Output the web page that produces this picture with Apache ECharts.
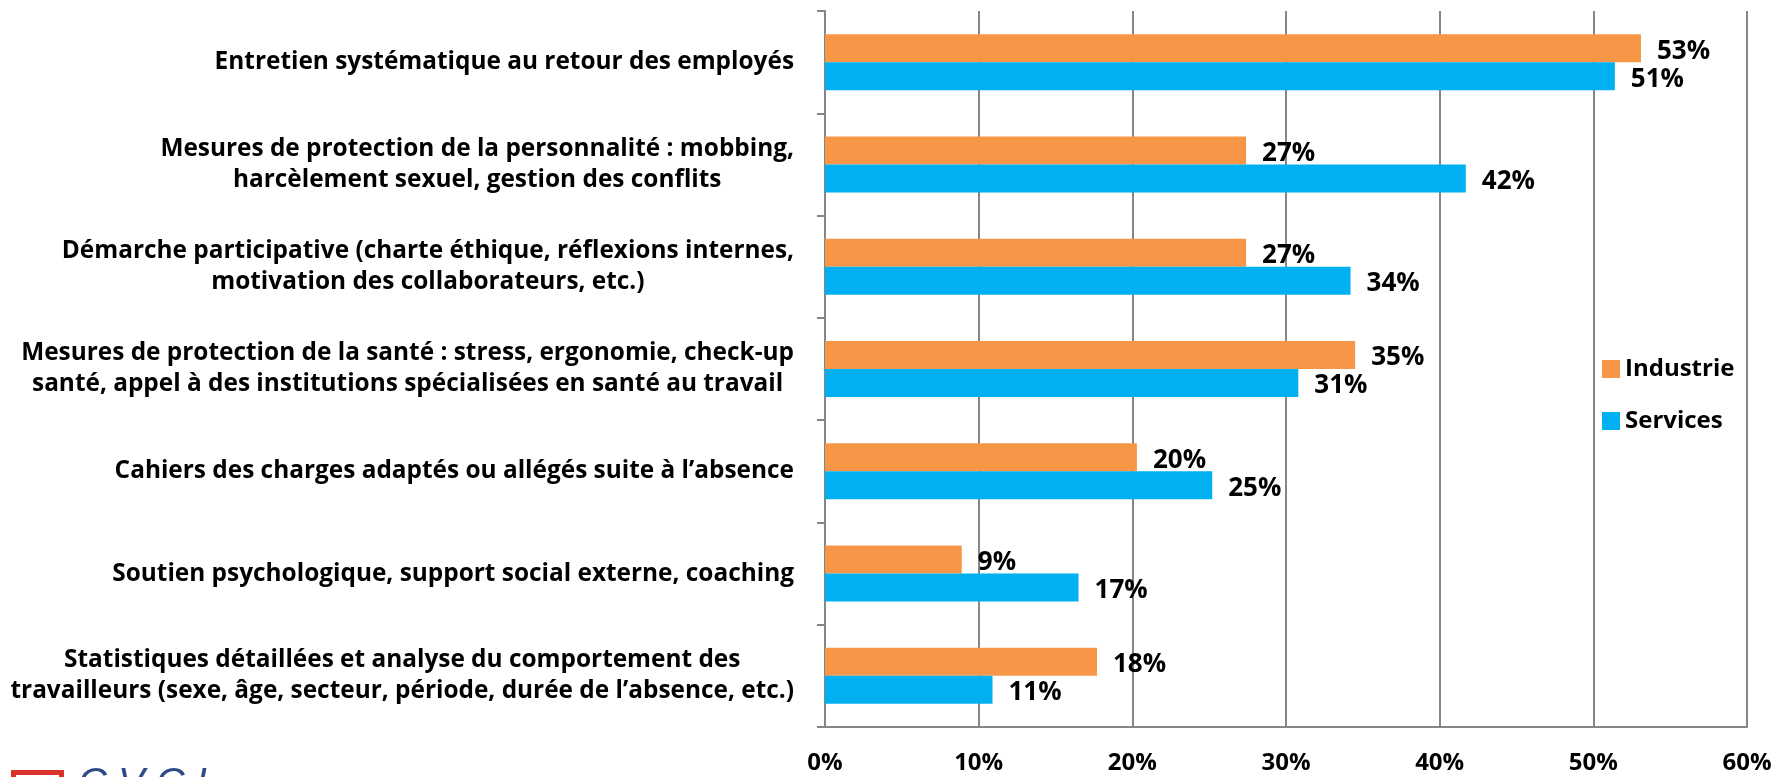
<!DOCTYPE html>
<html>
<head>
<meta charset="utf-8">
<script src="https://cdn.jsdelivr.net/npm/echarts@6/dist/echarts.min.js"></script>
<style>
html,body{margin:0;padding:0;background:#fff;}
#chart{width:1778px;height:777px;}
</style>
</head>
<body>
<div id="chart"></div>
<script>
const categories = [
  "Entretien systématique au retour des employés",
  "Mesures de protection de la personnalité : mobbing,\nharcèlement sexuel, gestion des conflits",
  "Démarche participative (charte éthique, réflexions internes,\nmotivation des collaborateurs, etc.)",
  "Mesures de protection de la santé : stress, ergonomie, check-up\nsanté, appel à des institutions spécialisées en santé au travail",
  "Cahiers des charges adaptés ou allégés suite à l’absence",
  "Soutien psychologique, support social externe, coaching",
  "Statistiques détaillées et analyse du comportement des\ntravailleurs (sexe, âge, secteur, période, durée de l’absence, etc.)"
];
const industrie = [53.1, 27.4, 27.4, 34.5, 20.3, 8.9, 17.7];
const services = [51.4, 41.7, 34.2, 30.8, 25.2, 16.5, 10.9];
const xTicks = [0, 10, 20, 30, 40, 50, 60];

const FONT = '"Open Sans"';
const chart = echarts.init(document.getElementById('chart'), null, {renderer: 'canvas'});

const labelStyle = {
  show: true,
  position: 'right',
  distance: 16,
  offset: [0, 3],
  formatter: p => Math.round(p.value) + '%',
  fontFamily: FONT,
  fontWeight: 'bold',
  fontSize: 26,
  color: '#000'
};

chart.setOption({
  animation: false,
  backgroundColor: '#fff',
  grid: {left: 825, right: 31, top: 11, bottom: 50, containLabel: false},
  legend: {
    orient: 'vertical',
    left: 1597,
    top: 352,
    itemWidth: 18,
    itemHeight: 18,
    itemGap: 28,
    icon: 'rect',
    data: ['Industrie', 'Services'],
    textStyle: {fontFamily: FONT, fontWeight: 'bold', fontSize: 24, color: '#000'}
  },
  xAxis: {
    type: 'value',
    min: xTicks[0],
    max: xTicks[xTicks.length - 1],
    interval: 10,
    axisLine: {show: true, lineStyle: {color: '#868686', width: 2}},
    axisTick: {show: false},
    splitLine: {show: true, lineStyle: {color: '#868686', width: 2}},
    axisLabel: {
      margin: 24,
      formatter: v => v + '%',
      fontFamily: FONT, fontWeight: 'bold', fontSize: 24, color: '#000'
    }
  },
  yAxis: {
    type: 'category',
    inverse: true,
    data: categories,
    axisLine: {show: true, lineStyle: {color: '#868686', width: 2}},
    axisTick: {show: true, length: 8, lineStyle: {color: '#868686', width: 2}},
    splitLine: {show: false},
    axisLabel: {
      margin: 31,
      align: 'right',
      formatter: v => v.split('\n').map(s => '{c|' + s + '}').join('\n'),
      rich: {
        c: {align: 'center', fontFamily: FONT, fontWeight: 'bold', fontSize: 24.4, lineHeight: 31, color: '#000'}
      }
    }
  },
  series: [
    {
      name: 'Industrie', type: 'bar', data: industrie,
      itemStyle: {color: '#F79646'},
      barWidth: 28, barGap: '0%', barCategoryGap: '44%',
      label: labelStyle
    },
    {
      name: 'Services', type: 'bar', data: services,
      itemStyle: {color: '#00B0F0'},
      barWidth: 28, barGap: '0%',
      label: labelStyle
    }
  ],
  graphic: [
    {type: 'rect', left: 11, top: 770, shape: {width: 48, height: 30}, style: {fill: 'none', stroke: '#d9332b', lineWidth: 5}},
    {type: 'text', left: 78, top: 765, style: {text: 'C V C I', fill: '#2b4a86', font: 'italic 40px "Liberation Sans"'}}
  ]
});
</script>
</body>
</html>
